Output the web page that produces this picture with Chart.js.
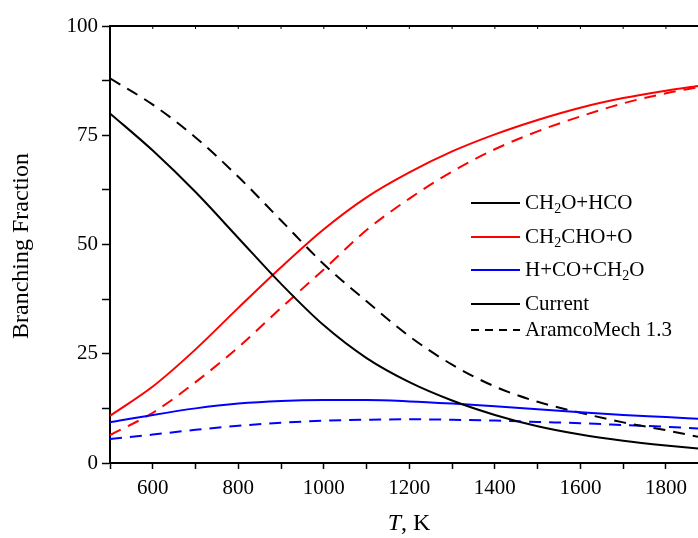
<!DOCTYPE html>
<html>
<head>
<meta charset="utf-8">
<script src="https://cdn.jsdelivr.net/npm/chart.js@4/dist/chart.umd.min.js"></script>
<style>body{margin:0;background:#fff}</style>
</head>
<body>
<canvas id="grafico" width="698" height="538"></canvas>
<script>
"use strict";
// temperatures (K) sampled along the curves
var temperaturas = [500, 600, 700, 800, 900, 1000, 1100, 1200, 1300, 1400, 1500, 1600, 1700, 1800, 1875];
// current model
var ch2oAtual = [80, 71.5, 62, 51.5, 41, 31.5, 24, 18.5, 14.3, 11, 8.4, 6.5, 5.1, 4.0, 3.3];
var ch2choAtual = [10.8, 17.5, 26, 35.5, 44.8, 53.5, 60.8, 66.5, 71.3, 75.2, 78.5, 81.3, 83.5, 85.2, 86.3];
var hcoAtual = [9.3, 11, 12.5, 13.6, 14.2, 14.4, 14.4, 14.1, 13.6, 13, 12.3, 11.6, 11, 10.5, 10.1];
// AramcoMech 1.3
var ch2oAramco = [88, 82, 74.5, 65.5, 55.5, 45.5, 37, 29, 22.5, 17.5, 14, 11.5, 9.3, 7.5, 6];
var ch2choAramco = [6.4, 11.5, 18.5, 26.5, 35.5, 44.3, 53.3, 60.5, 66.7, 71.8, 75.9, 79.3, 82.3, 84.6, 86];
var hcoAramco = [5.5, 6.5, 7.6, 8.5, 9.2, 9.7, 9.9, 10, 9.9, 9.7, 9.4, 9.1, 8.7, 8.3, 7.9];

var legendaTextos = ["CH_2O+HCO", "CH_2CHO+O", "H+CO+CH_2O", "Current", "AramcoMech 1.3"];
var legendaCores = ["#000000", "#ff0000", "#0000ff", "#000000", "#000000"];
var legendaTracos = [[], [], [], [], [8, 6]];
var legendaY = [203, 237, 270, 304, 330];

var fonte = "Liberation Serif, Times New Roman, serif";

function pontos(valores) {
    var lista = [];
    for (var i = 0; i <= temperaturas.length - 1; i++) {
        lista.push({ x: temperaturas[i], y: valores[i] });
    }
    return lista;
}

function serie(valores, cor, tracejado) {
    return {
        data: pontos(valores),
        borderColor: cor,
        borderWidth: 2,
        borderDash: tracejado ? [12, 8] : [],
        pointRadius: 0,
        fill: false,
        cubicInterpolationMode: 'monotone'
    };
}

// draws text with "_2" style subscripts
function textoRico(ctx, texto, x, y) {
    var partes = texto.split(/(_\d)/);
    for (var i = 0; i <= partes.length - 1; i++) {
        var p = partes[i];
        if (p === "") continue;
        if (p.charAt(0) === "_") {
            ctx.font = "14px " + fonte;
            ctx.fillText(p.substring(1), x, y + 6);
            x += ctx.measureText(p.substring(1)).width;
        } else {
            ctx.font = "21px " + fonte;
            ctx.fillText(p, x, y);
            x += ctx.measureText(p).width;
        }
    }
}

var extras = {
    id: 'extras',
    afterDraw: function (chart) {
        var ctx = chart.ctx;
        var area = chart.chartArea;
        var sx = chart.scales.x;
        ctx.save();
        // top frame line with inner ticks
        ctx.strokeStyle = "#000";
        ctx.lineWidth = 2;
        ctx.beginPath();
        ctx.moveTo(area.left, area.top);
        ctx.lineTo(area.right, area.top);
        ctx.stroke();
        ctx.lineWidth = 1;
        for (var t = 500; t <= 1800; t += 100) {
            var px = sx.getPixelForValue(t);
            ctx.beginPath();
            ctx.moveTo(px, area.top);
            ctx.lineTo(px, area.top + 3);
            ctx.stroke();
        }
        // legend
        ctx.textBaseline = "middle";
        ctx.fillStyle = "#000";
        for (var i = 0; i <= legendaTextos.length - 1; i++) {
            ctx.strokeStyle = legendaCores[i];
            ctx.lineWidth = 2;
            ctx.setLineDash(legendaTracos[i]);
            ctx.beginPath();
            ctx.moveTo(471, legendaY[i]);
            ctx.lineTo(520, legendaY[i]);
            ctx.stroke();
            ctx.setLineDash([]);
            ctx.textAlign = "left";
            textoRico(ctx, legendaTextos[i], 525, legendaY[i]);
        }
        // axis titles
        ctx.font = "24px " + fonte;
        ctx.textAlign = "center";
        ctx.save();
        ctx.translate(22, 246);
        ctx.rotate(-Math.PI / 2);
        ctx.fillText("Branching Fraction", 0, 0);
        ctx.restore();
        ctx.textAlign = "left";
        ctx.font = "italic 24px " + fonte;
        var wT = ctx.measureText("T").width;
        ctx.font = "24px " + fonte;
        var wK = ctx.measureText(", K").width;
        var x0 = 409 - (wT + wK) / 2;
        ctx.font = "italic 24px " + fonte;
        ctx.fillText("T", x0, 524);
        ctx.font = "24px " + fonte;
        ctx.fillText(", K", x0 + wT, 524);
        ctx.restore();
    }
};

var ctx = document.getElementById('grafico').getContext('2d');
var chart = new Chart(ctx, {
    type: 'line',
    data: {
        datasets: [
            serie(ch2oAtual, "#000000", false),
            serie(ch2choAtual, "#ff0000", false),
            serie(hcoAtual, "#0000ff", false),
            serie(ch2oAramco, "#000000", true),
            serie(ch2choAramco, "#ff0000", true),
            serie(hcoAramco, "#0000ff", true)
        ]
    },
    options: {
        responsive: false,
        animation: false,
        layout: { padding: { top: 26, right: 0, left: 0, bottom: 0 } },
        plugins: {
            legend: { display: false },
            tooltip: { enabled: false }
        },
        scales: {
            x: {
                type: 'linear',
                min: 500,
                max: 1875,
                afterFit: function (scale) { scale.height = 75; },
                border: { color: "#000", width: 2 },
                grid: { drawOnChartArea: false, color: "#000", tickLength: 6, tickWidth: 1.5 },
                ticks: {
                    stepSize: 100,
                    includeBounds: false,
                    autoSkip: false,
                    maxRotation: 0,
                    color: "#000",
                    padding: 7,
                    font: { family: fonte, size: 21 },
                    callback: function (v) { return v % 200 === 0 ? v : ''; }
                }
            },
            y: {
                min: 0,
                max: 100,
                afterFit: function (scale) { scale.width = 110; },
                border: { color: "#000", width: 2 },
                grid: { drawOnChartArea: false, color: "#000", tickLength: 8, tickWidth: 1.5 },
                ticks: {
                    stepSize: 12.5,
                    autoSkip: false,
                    color: "#000",
                    padding: 4,
                    font: { family: fonte, size: 21 },
                    callback: function (v) { return v % 25 === 0 ? v : ''; }
                }
            }
        }
    },
    plugins: [extras]
});
</script>
</body>
</html>
